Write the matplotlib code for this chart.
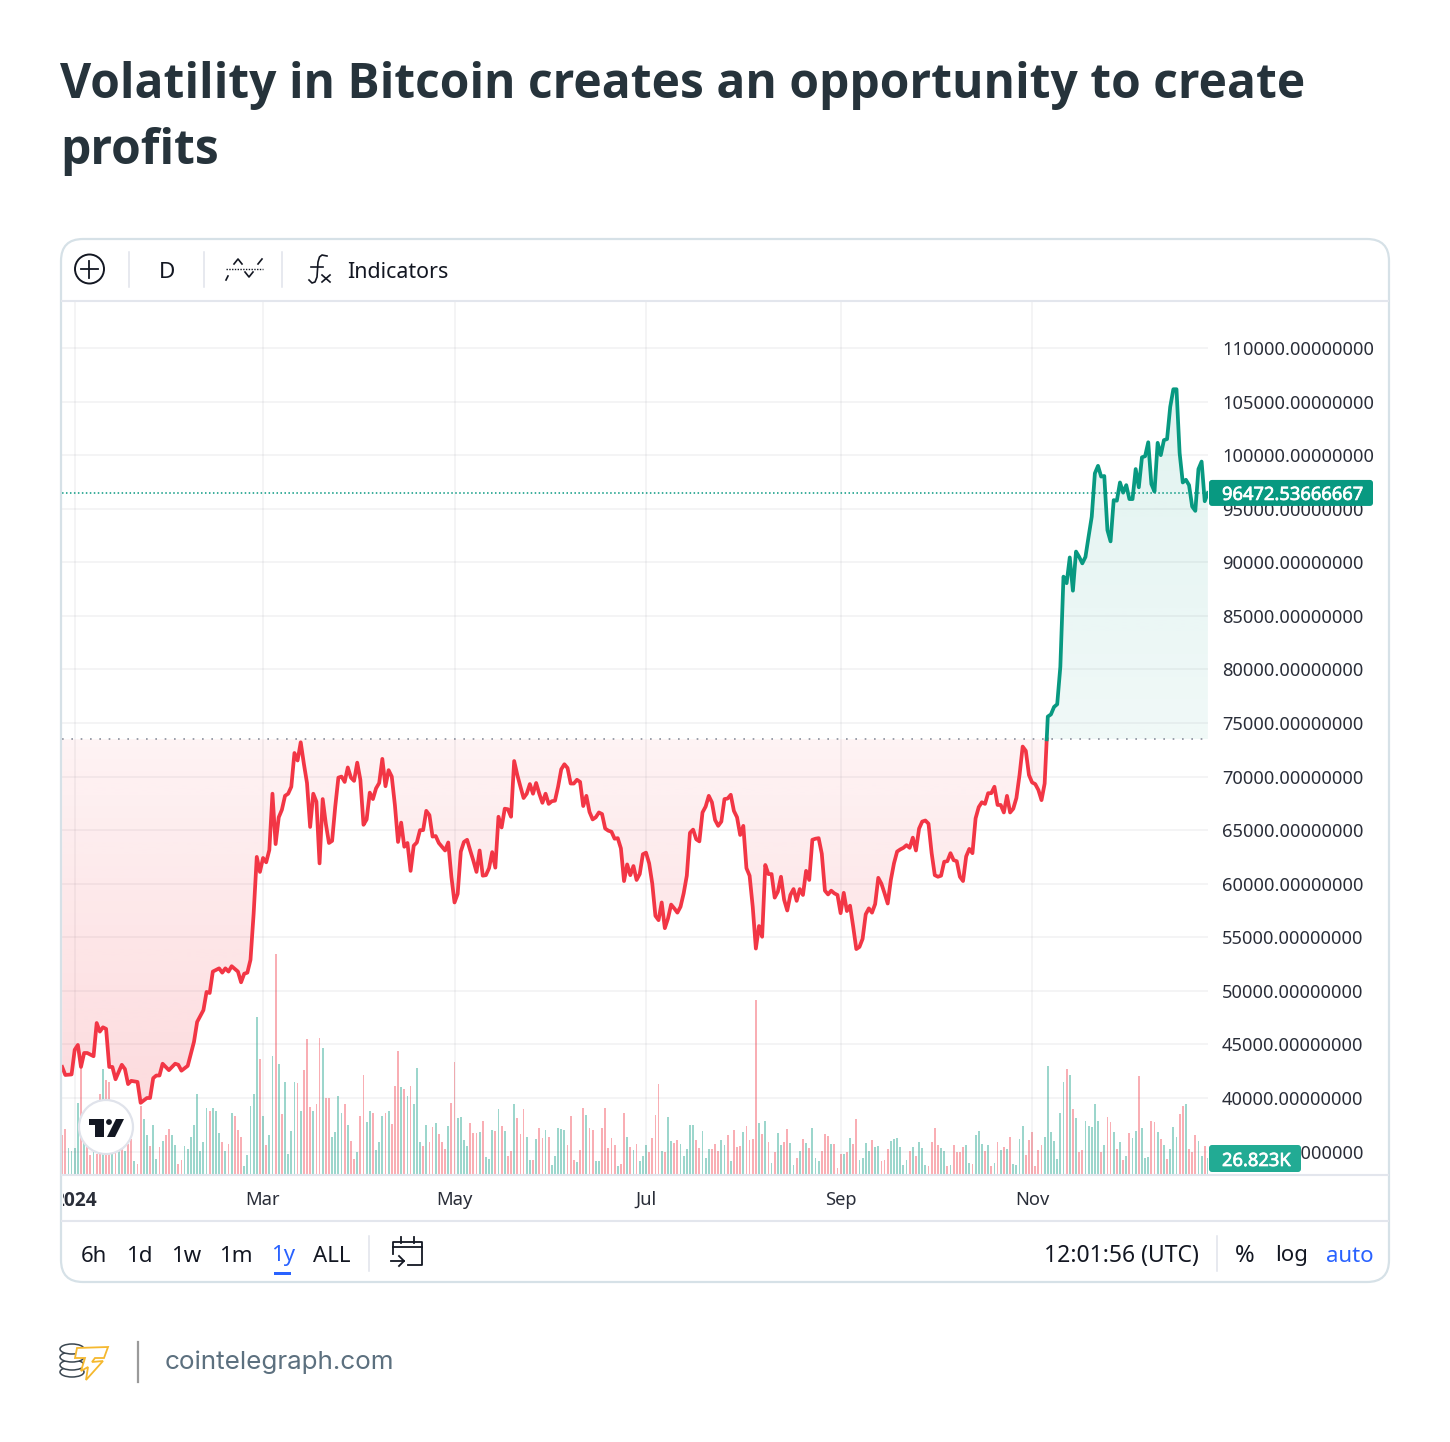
import matplotlib
matplotlib.use("Agg")
import matplotlib.pyplot as plt
import matplotlib.patheffects as pe
import numpy as np
from matplotlib.patches import Circle, Ellipse, FancyBboxPatch, Polygon, Rectangle
from matplotlib.transforms import Bbox

# Bitcoin 1y baseline chart.
# days are counted from 1 Jan 2024, prices are in thousands of USD

month_days = [0, 60, 121, 182, 244, 305]
month_labels = ["2024", "Mar", "May", "Jul", "Sep", "Nov"]
price_ticks = [35, 40, 45, 50, 55, 60, 65, 70, 75, 80, 85, 90, 95, 100, 105, 110]

baseline = 73.48
last_price = 96.47253667
last_volume = 26.823

# start of the year, not every day could be read
red_days_head = [-4, -3, -1, 0, 1, 2, 3, 4, 6, 7, 8, 9, 10, 11, 12, 13, 15, 16, 17, 18, 20, 21, 23, 24, 25, 26, 27, 28,
                 30, 32, 33, 34, 36, 38, 39, 41, 42, 43, 44, 46, 47, 48, 49, 50, 52, 53, 54, 55, 56, 57]
red_price_head = [42.9, 42.15, 42.2, 44.5, 44.95, 42.9, 44.2, 44.2, 43.9, 47, 46.2, 46.6, 46.45, 42.9, 42.9, 41.75,
                  43.1, 42.7, 41.3, 41.6, 41.5, 39.55, 40, 40, 41.85, 42.1, 42.1, 43.2, 42.6, 43.2, 43.1, 42.55, 43,
                  45.25, 47.1, 48.2, 49.9, 49.8, 51.8, 52.1, 51.7, 52.1, 51.8, 52.3, 51.8, 50.8, 51.6, 51.7, 52.9, 57.2]
# daily from day 58
red_price_tail = [62.5, 61.1, 62.4, 62, 63.15, 68.4, 63.7, 66.2, 66.9, 68.2,
                  68.4, 69.05, 72.2, 71.5, 73.2, 71.2, 69.4, 65.3, 68.4, 67.65,
                  61.9, 67.9, 65.6, 63.8, 64, 67.2, 69.9, 70, 69.5, 70.85,
                  69.9, 69.6, 71.3, 69.7, 65.5, 66, 68.5, 67.9, 68.9, 69.4,
                  71.65, 69.1, 70.6, 70, 67.35, 63.9, 65.7, 63.45, 63.8, 61.2,
                  63.55, 63.85, 65, 65, 66.8, 66.4, 64.4, 64.45, 63.8, 63.45,
                  63.1, 63.85, 60.65, 58.25, 59.05, 63, 63.9, 64.1, 63.1, 62.15,
                  61.1, 63.1, 60.75, 60.8, 61.45, 62.95, 61.5, 66.25, 65.25, 67,
                  66.95, 66.25, 71.45, 70.15, 69.05, 68, 68.4, 69.3, 68.4, 69.4,
                  68.4, 67.55, 68.4, 67.45, 67.7, 67.75,
                  69.06, 70.68, 71.15, 70.8, 69.35, 69.35, 69.7, 69.5, 67.25, 68.2,
                  66.7, 66, 66.2, 66.65, 66.5, 65.15, 64.95, 64.85, 64.2, 64.25,
                  63.3, 60.25, 61.8, 60.8, 61.65, 60.35, 60.9, 62.75, 62.9, 61.9,
                  60, 57, 56.6, 58.25, 55.85, 56.75, 58.05, 57.7, 57.3, 57.85,
                  59.1, 60.75, 64.75, 65.05, 64.15, 63.95, 66.65, 67.2, 68.2, 67.6,
                  65.95, 65.4, 65.8, 67.9, 67.95, 68.3, 66.8, 66.2, 64.55, 65.4,
                  61.45, 60.75, 57.85, 53.95, 56.05, 55.05, 61.75, 60.9, 60.9, 58.7,
                  59.25, 60.65, 58.5, 57.5, 58.95, 59.5, 58.4, 59.5, 58.95, 61.2,
                  60.35, 64.1, 64.2, 64.25, 62.8, 59.35, 59, 59.35, 59.1, 58.95,
                  57.25, 59.15, 57.45, 57.95, 56, 53.9, 54.1, 54.85, 57.15, 57.7,
                  57.3, 58.1, 60.55, 60, 59.1, 58.15, 60.35, 61.9, 63, 63.2,
                  63.35, 63.6, 63.35, 64.3, 63.1, 65.15, 65.8, 65.9, 65.6, 62.85,
                  60.8, 60.65, 60.75, 62.05, 62.1, 62.85, 62.2, 62.1, 60.65, 60.25,
                  62.55, 63.25, 62.85, 66.1, 67.15, 67.6, 67.45, 68.45, 68.45, 69.05,
                  67.35, 67.35, 66.65, 68.2, 66.65, 67, 68, 70.15, 72.8, 72.4,
                  70.15, 69.45, 69.3, 68.75, 67.8, 69.35]
# daily from day 310
green_price = [75.6, 75.8, 76.5, 76.75, 80.25, 88.66, 88.05, 90.45, 87.35, 91,
               90.5, 89.9, 90.5, 92.4, 94.25, 98.3, 99, 98, 98.05, 93,
               91.95, 95.8, 95.75, 97.45, 96.5, 97.2, 95.9, 95.9, 98.7, 97,
               99.8, 99.9, 101.2, 97.3, 96.6, 101.15, 100, 101.4, 101.5, 104.5,
               106.15, 106.15, 100.2, 97.45, 97.7, 97.2, 95.2, 94.8, 98.7, 99.4,
               95.7, 96.47]

# volume in thousands, positive = green bar, negative = red bar
volume_a = [-66, -77, 44, 40, 44, 121, -188, 57, -46, -33, 40, -34, -137, 180, -160, -158, 54, -46, 40, -51,
            40, -51, -60, 22, -17, -117, 94, 67, -48, 84, 26, -46, 57, -66, -77, 66, 50, -17, -24, 48,
            42, 64, 83, 137, 40, 54, 113, -108, 112, 108, 70, -54, 40, -52, 105, -100, -76, -63, 13, 33,
            117, 137, 268, -196, 100, -50, 66, 202, -376, 188, -103, 157, 34, 74, 158, -155, 108, -178, -230, -114,
            108, -119, -233, 215, -130, -130, 63, 71, 134, 104, -120, 83, -57, -26, 37, -100, -170, 89, 108, -104,
            41, 54, 100, -104, 108, -86, -150, -211, 149, -145, 134, -150, 119, 182, 54, -48, 83, -54, -80, 88, -68]
volume_b = [-54, -43, 82, -121, -192, 96, 98, 58, 48, -87, -70, -70, 72, -90, 29, 26, 75, -74, 111, -82,
            74, -31, -40, 120, -95, -68, -111, 64, 24, -24, 60, -79, -62, 75, -64, 16, 31, 79, 77, 76,
            -50, -100, -24, 21, -41, -113, 101, -78, -75, 22, 23, -78, -113, -44, -62, -50, 14, -17, -104, 63,
            -46, 41, -51, 22, 31, 50, -38, -62, -101, -154, 39, -37, 98, 56, -53, -58, 51, 31, 43, 83,
            83, -58, -44, 73, 28, 43, -43, -51, -40, 58, 50, -67, 23, -75, -46, -48, 72, -82, -58, -60,
            -298, 87, -69, 91, -55, 19, -37, 70, 50, -54, -77, 53, 15, -27, 39, -59, 53, -44, 79, 27,
            23, -40, -68, -65]
volume_c = [52, -51, -11, -35, 34, -37, 62, -51, -94, 24, 27, 53, 40, -58, 47, 48, -22, -24, -43, 56,
            60, 62, 47, 15, 24, -40, 46, -31, 54, 44, 15, -14, -54, -78, -50, 44, 40, -13, 16, -50,
            -37, -38, -46, 50, 19, -17, 67, 74, 51, -40, 50, -13, 18, -55, 41, -47, 43, -63, 17, 15,
            59, 82, -33, -58, -71, -13, -41, -50, 63, 185, 72, 57, 26, 105, 157, -180, 170, -111, 96, -37,
            -41, 91, 82, 80, 119, 91, -37, 50, -97, -89, 71, -43, 54, -24, 30, -70, 62, 74, -167, 79,
            27, 29, -91, -89, 71, -59, 50, -26, 43, 80, 64, -103, -117, 120, -43, -37, -66, 56, 31, -48,
            26.823]

toolbar_bottom = ["6h", "1d", "1w", "1m", "1y", "ALL"]
toolbar_bottom_x = [94, 139, 186, 236, 283, 332]

plt.rcParams["font.family"] = "Noto Sans"

red = "#f23645"
green = "#089981"
text_dark = "#131722"
line_grey = "#e0e3eb"
blue = "#2962ff"

W, H = 1450, 1442
fig = plt.figure(figsize=(W / 100, H / 100), dpi=100, facecolor="white")

# chart pane in pixel terms
pane = [62 / W, 1 - 1174 / H, (1208 - 62) / W, (1174 - 302) / H]

# volume sits behind the price
ax_vol = fig.add_axes(pane, zorder=0)
ax = fig.add_axes(pane, zorder=1)
ax.patch.set_alpha(0)

x_limits = (-4.05, 361.04)
y_limits = (32.907, 114.293)

# volume
for start, vols in [(-4, volume_a), (117, volume_b), (241, volume_c)]:
    vols = np.array(vols, dtype=float)
    days = start + np.arange(len(vols))
    ax_vol.bar(days, np.abs(vols), width=0.58, color=np.where(vols > 0, green, red), alpha=0.4, linewidth=0)
ax_vol.set_xlim(x_limits)
ax_vol.set_ylim(0, 1491)
ax_vol.axis("off")

# price
red_days = np.array(red_days_head + list(range(58, 58 + len(red_price_tail))), dtype=float)
red_price = np.array(red_price_head + red_price_tail)
green_days = 310 + np.arange(len(green_price), dtype=float)
green_vals = np.array(green_price)

# where the line goes through the baseline
cross_day = red_days[-1] + (baseline - red_price[-1]) / (green_vals[0] - red_price[-1])
red_x = np.append(red_days, cross_day)
red_y = np.append(red_price, baseline)
green_x = np.insert(green_days, 0, cross_day)
green_y = np.insert(green_vals, 0, baseline)


def gradient_fill(x, y, rgb, alpha_base, alpha_far, far):
    poly = ax.fill_between(x, y, baseline, color="none", linewidth=0)
    shades = np.zeros((256, 1, 4))
    shades[:, :, :3] = matplotlib.colors.to_rgb(rgb)
    # first row is the lower edge of the image
    if far < baseline:
        shades[:, 0, 3] = np.linspace(alpha_far, alpha_base, 256)
        extent = (x_limits[0], x_limits[1], far, baseline)
    else:
        shades[:, 0, 3] = np.linspace(alpha_base, alpha_far, 256)
        extent = (x_limits[0], x_limits[1], baseline, far)
    im = ax.imshow(shades, extent=extent, origin="lower", aspect="auto", interpolation="bilinear", zorder=1.2)
    im.set_clip_path(poly.get_paths()[0], transform=ax.transData)


gradient_fill(red_x, red_y, red, 0.06, 0.18, 39.5)
gradient_fill(green_x, green_y, green, 0.06, 0.12, 106.2)

ax.plot(red_x, red_y, color=red, lw=2.7, solid_joinstyle="round", zorder=3)
ax.plot(green_x, green_y, color=green, lw=2.7, solid_joinstyle="round", zorder=3)
ax.axhline(baseline, color="#8a8f9c", lw=1.2, dashes=(1, 4.6), zorder=2.5)
ax.axhline(last_price, color=green, lw=1.1, dashes=(1, 1.6), zorder=2.5)

ax.set_xlim(x_limits)
ax.set_ylim(y_limits)
ax.set_xticks(month_days)
ax.set_xticklabels(month_labels)
ax.set_yticks(price_ticks)
ax.set_yticklabels([f"{v * 1000:.8f}" for v in price_ticks])
ax.yaxis.tick_right()
ax.tick_params(axis="both", length=0, labelsize=13.2, labelcolor="#2a2e39")
ax.tick_params(axis="y", pad=10)
ax.tick_params(axis="x", pad=12)
ax.grid(True, color="#787b86", alpha=0.1, lw=1.1)
ax.set_axisbelow(True)
for s in ax.spines.values():
    s.set_visible(False)

# the year label is cut by the left of the pane
year_label = ax.get_xticklabels()[0]
year_label.set_fontfamily("Open Sans")
year_label.set_fontweight("bold")
year_label.set_fontsize(13.8)
year_label.set_clip_on(True)
year_label.set_clip_box(Bbox([[63, 0], [W, H]]))

# everything around the chart is drawn on a full figure layer, in pixels
over = fig.add_axes([0, 0, 1, 1], zorder=5)
over.set_xlim(0, W)
over.set_ylim(H, 0)
over.axis("off")
over.patch.set_alpha(0)

# last value tags
tag_effect = [pe.withStroke(linewidth=0.5, foreground="white")]
price_y = H - ax.transData.transform((0, last_price))[1]
over.add_patch(FancyBboxPatch((1209, price_y - 13), 164, 26, boxstyle="round,pad=0,rounding_size=3", fc=green, ec="none"))
over.text(1222, price_y + 2, "96472.53666667", color="white", fontsize=13.2, va="center", ha="left",
          path_effects=tag_effect)
over.add_patch(FancyBboxPatch((1209, 1145), 92, 27, boxstyle="round,pad=0,rounding_size=3", fc="#22ab94", ec="none"))
over.text(1222, 1161, f"{last_volume:.3f}K", color="white", fontsize=13.2, va="center", ha="left",
          path_effects=tag_effect)

over.text(60, 86, "Volatility in Bitcoin creates an opportunity to create", fontfamily="Open Sans", fontsize=34.6,
          fontweight="bold", color="#26333b", va="center", ha="left")
over.text(60, 151, "profits", fontfamily="Open Sans", fontsize=34.6, fontweight="bold", color="#26333b", va="center",
          ha="left")

over.add_patch(FancyBboxPatch((61, 239), 1328, 1043, boxstyle="round,pad=0,rounding_size=22", fc="none",
                              ec="#d6e1e7", lw=1.6))
over.plot([62, 1388], [301, 301], color="#e3e6ed", lw=1.5)
over.plot([62, 1388], [1175, 1175], color="#e3e6ed", lw=1.5)
over.plot([62, 1388], [1221, 1221], color="#e3e6ed", lw=1.5)

# top toolbar
over.add_patch(Circle((89.5, 269), 14.5, fc="none", ec=text_dark, lw=1.4))
over.plot([81, 98], [269, 269], color=text_dark, lw=1.3)
over.plot([89.5, 89.5], [260.5, 277.5], color=text_dark, lw=1.3)
for sx in [129, 204, 282]:
    over.plot([sx, sx], [252, 287], color=line_grey, lw=1.1)
over.text(167, 272, "D", fontsize=16.2, color=text_dark, ha="center", va="center")
over.plot([226, 263], [269, 269], color=text_dark, lw=1, dashes=(1, 1))
over.plot([226, 228], [280, 276], color=text_dark, lw=1.2)
over.plot([234, 238, 242], [264, 259, 264], color=text_dark, lw=1.2)
over.plot([245, 249, 253], [272, 277, 272], color=text_dark, lw=1.2)
over.plot([258, 262], [264, 259], color=text_dark, lw=1.2)
# fx icon
over.plot([327, 322, 319.5, 318, 317, 315, 312, 309], [256, 255, 257, 262, 277, 282, 283, 280], color=text_dark, lw=1.2)
over.plot([311, 323], [267, 267], color=text_dark, lw=1.2)
over.plot([322, 330], [275, 282], color=text_dark, lw=1.2)
over.plot([322, 330], [282, 275], color=text_dark, lw=1.2)
over.text(347, 272, "Indicators", fontsize=15.4, color=text_dark, ha="left", va="center")

# tradingview badge
over.add_patch(Circle((106, 1127), 27, fc="white", ec="#e0e3eb", lw=1.6))
logo_dark = "#131722"
over.add_patch(Polygon([(89, 1119), (104, 1119), (104, 1137), (95, 1137), (95, 1125), (89, 1125)], fc=logo_dark))
over.add_patch(Circle((109, 1122), 2.9, fc=logo_dark))
over.add_patch(Polygon([(116, 1119), (124, 1119), (115, 1137), (107, 1137)], fc=logo_dark))

# bottom toolbar
for label, lx in zip(toolbar_bottom, toolbar_bottom_x):
    over.text(lx, 1256, label, fontsize=16, color=blue if label == "1y" else text_dark, ha="center", va="center")
over.add_patch(Rectangle((274, 1272), 17, 3, fc=blue, ec="none"))
for sx in [369, 1217]:
    over.plot([sx, sx], [1236, 1271], color=line_grey, lw=1.1)
cal = text_dark
over.plot([393, 393, 422, 422, 408], [1254, 1242, 1242, 1265, 1265], color=cal, lw=1.3)
over.plot([393, 422], [1247, 1247], color=cal, lw=1.3)
over.plot([401, 401], [1237, 1243], color=cal, lw=1.3)
over.plot([414, 414], [1237, 1243], color=cal, lw=1.3)
over.plot([391, 404], [1261, 1261], color=cal, lw=1.3)
over.plot([399, 404, 399], [1256, 1261, 1266], color=cal, lw=1.3)
over.text(1199, 1256, "12:01:56 (UTC)", fontsize=16.5, color=text_dark, ha="right", va="center")
over.text(1245, 1256, "%", fontsize=17, color=text_dark, ha="center", va="center")
over.text(1292, 1256, "log", fontsize=16, color=text_dark, ha="center", va="center")
over.text(1350, 1256, "auto", fontsize=16, color=blue, ha="center", va="center")

# footer logo
for cy in [1372, 1365, 1357, 1349]:
    over.add_patch(Ellipse((72, cy), 24, 10, fc="white", ec="#3a4650", lw=1.1))
bolt = [(77, 1348), (108, 1347), (104, 1358), (95, 1358), (92, 1362), (103, 1361), (86, 1380), (88, 1367), (81, 1371),
        (85, 1358), (75, 1358)]
over.add_patch(Polygon(bolt, fc="white", ec="#f5b82e", lw=1.3))
over.plot([138, 138], [1342, 1382], color="#9a9a9a", lw=1.6)
over.text(165, 1362, "cointelegraph.com", fontfamily="Inter", fontsize=18.7, color="#5c707f", ha="left", va="center")

fig.savefig("out.png", dpi=100)
plt.close()
